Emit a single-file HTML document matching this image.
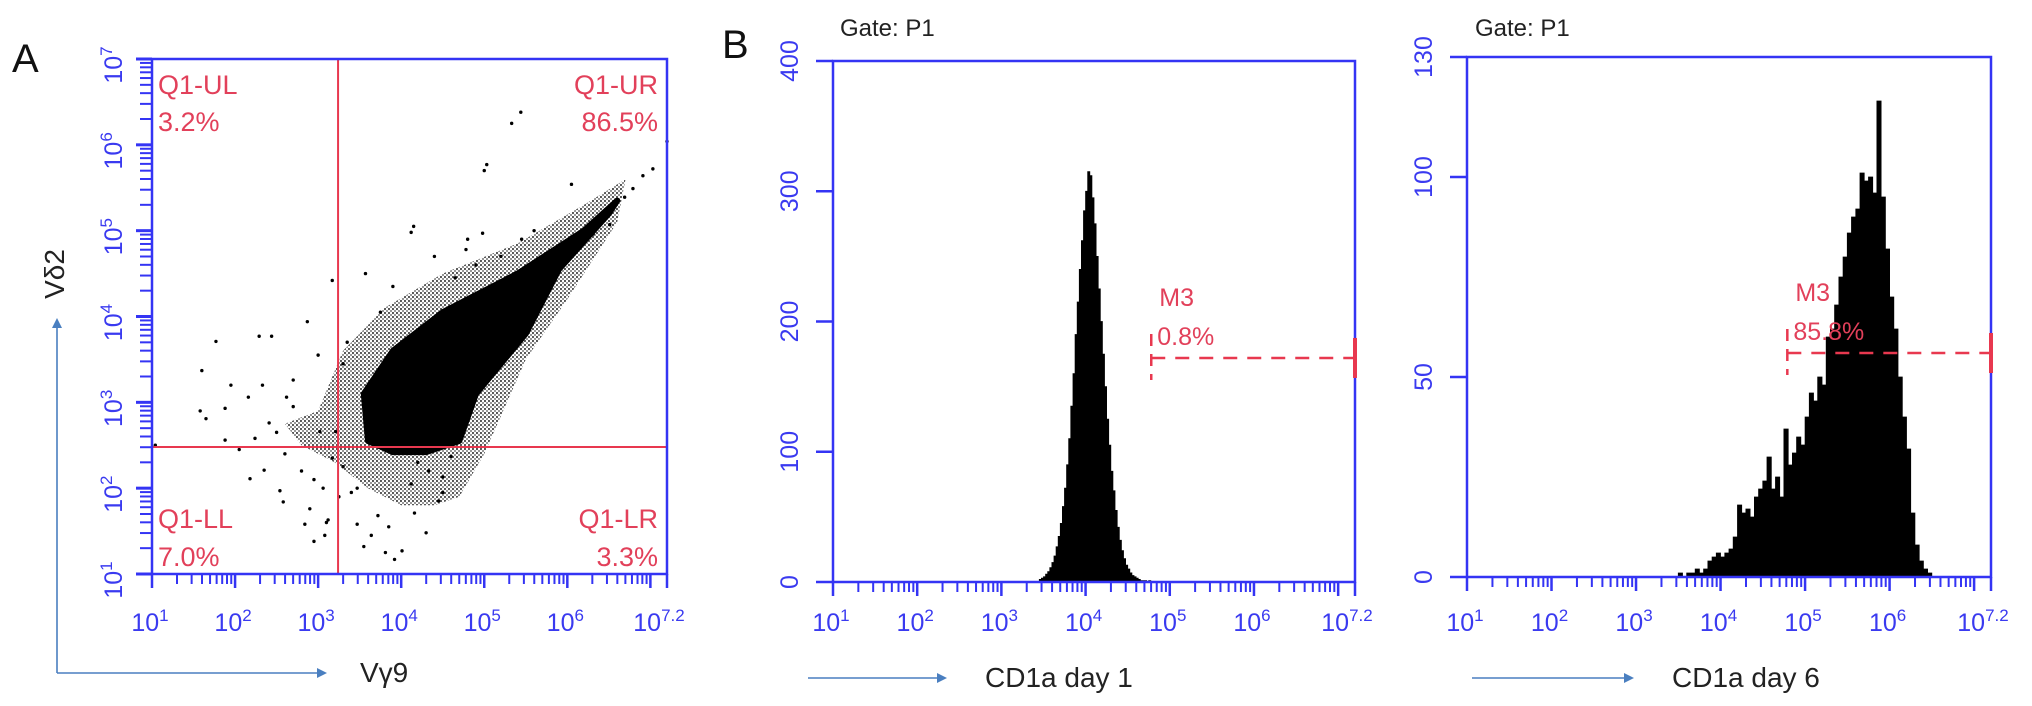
<!DOCTYPE html>
<html><head><meta charset="utf-8"><style>
html,body{margin:0;padding:0;background:#fff;}
svg{display:block;font-family:"Liberation Sans",Arial,sans-serif;}
</style></head><body>
<svg id="fig" width="2032" height="706" viewBox="0 0 2032 706" xmlns="http://www.w3.org/2000/svg">
<defs>
<pattern id="halo" width="4" height="4" patternUnits="userSpaceOnUse"><circle cx="1" cy="1" r="1.1" fill="#000"/><circle cx="3" cy="3" r="0.9" fill="#000"/></pattern>
<marker id="arr" markerWidth="10" markerHeight="10" refX="8" refY="5" orient="auto" markerUnits="userSpaceOnUse"><path d="M0,0 L10,5 L0,10 z" fill="#4a7fc0"/></marker>
</defs>
<text x="12" y="72" font-size="40" fill="#111">A</text>
<text x="722" y="58" font-size="40" fill="#111">B</text>
<text x="840" y="36" font-size="24" fill="#222">Gate: P1</text>
<text x="1475" y="36" font-size="24" fill="#222">Gate: P1</text>
<g id="layer"></g>
</svg>
<script>
// ---- Panel A data (log10 units) ----
const quadX = [3.24];
const quadY = [2.48];
const quadLabels = ["Q1-UL","Q1-UR","Q1-LL","Q1-LR"];
const quadPercents = ["3.2%","86.5%","7.0%","3.3%"];
const coreX = [3.6,3.55,3.9,4.5,5.4,6.2,6.6,6.5,5.9,5.5,4.9,4.7,4.3,3.9];
const coreY = [2.55,3.1,3.6,4.05,4.5,5.0,5.35,5.2,4.55,3.8,3.1,2.55,2.42,2.42];
const haloX = [3.0,3.3,3.8,4.5,5.4,6.2,6.7,6.6,6.0,5.5,5.0,4.7,4.4,4.0,3.6,3.2,2.8,2.6];
const haloY = [2.9,3.6,4.1,4.5,4.85,5.3,5.6,5.1,4.2,3.5,2.4,1.9,1.8,1.8,2.0,2.3,2.5,2.75];
const dotX = [5.44,5.33,5.03,5.0,4.15,4.12,3.17,3.57,4.78,4.98,5.45,1.77,1.60,2.87,2.29,2.44,1.58,1.88,1.65,1.95,2.16,2.33,2.41,2.62,2.70,2.18,2.35,2.54,2.58,2.90,2.84,3.08,3.12,2.95,3.47,3.55,3.92,3.81,4.01,4.16,4.30,4.50,4.60,4.50,3.72,3.64,1.88,1.04,2.24,2.80,3.06,3.25,3.30,3.47,4.12,4.33,3.17,3.02,3.21,6.05,6.69,6.79,6.91,7.03,7.20,6.51,6.31,6.15,3.35,3.0,2.7,4.4,4.8,5.6,3.9,2.6,3.4,4.2,3.1,2.95,4.9,5.2,4.65,3.75,3.3,2.5,2.05,3.85,4.45];
const dotY = [6.38,6.25,5.77,5.70,5.05,4.98,4.42,4.50,4.78,4.97,4.90,3.71,3.37,3.94,3.77,3.77,2.90,2.93,2.81,3.20,3.06,3.20,2.76,3.06,3.26,2.11,2.21,1.97,1.84,1.76,1.58,1.45,1.63,1.38,1.58,1.32,1.17,1.25,1.27,1.71,1.48,1.95,2.37,2.13,1.68,1.45,2.56,2.50,2.58,2.20,2.00,1.90,2.25,2.00,2.05,2.20,2.35,2.66,2.66,5.54,5.39,5.49,5.64,5.72,6.04,5.07,4.96,4.80,3.70,3.55,2.95,4.70,4.90,5.00,4.35,2.40,1.95,2.30,1.60,2.10,4.60,4.70,4.45,4.05,3.45,2.65,2.45,1.55,1.85];
// ---- Panel B day 1 histogram ----
const day1Start = [3.45];
const day1Step = [0.025];
const day1Counts = [2,3,4,6,8,11,15,20,27,35,45,58,72,90,110,135,160,190,215,240,262,285,300,315,312,295,275,250,225,200,175,150,125,105,85,70,55,42,32,24,18,13,10,7,5,4,3,2,1,1,1,0,1];
const day1Gate = [4.78];
const day1GateLevel = [172];
const day1Percent = ["0.8%"];
const day1YTicks = [0,100,200,300,400];
// ---- Panel B day 6 histogram ----
const day6Start = [3.50];
const day6Step = [0.05];
const day6Counts = [1,0,1,1,2,1,2,4,5,6,5,6,7,10,18,16,17,15,20,22,24,30,22,25,20,37,28,31,35,33,40,46,44,50,48,60,62,68,75,80,86,90,92,101,99,100,96,119,95,82,70,62,50,40,32,16,8,4,2,1,0];
const day6Gate = [4.79];
const day6GateLevel = [56];
const day6Percent = ["85.8%"];
const day6YTicks = [0,50,100,130];
// ---- shared axis ticks ----
const xDecades = [1,2,3,4,5,6];
const xLastLabel = ["7.2"];
const yDecadesA = [1,2,3,4,5,6,7];

const NS = "http://www.w3.org/2000/svg";
const layer = document.getElementById("layer");
const BLUE = "#3434f4", RED = "#e8384f", LBL = "#3a3af0";
function el(tag, attrs, parent){ const e=document.createElementNS(NS,tag); for(const k in attrs) e.setAttribute(k,attrs[k]); (parent||layer).appendChild(e); return e; }
function mkScale(a0,a1,p0,p1){ return v => p0 + (v-a0)/(a1-a0)*(p1-p0); }

function powerLabel(x, y, exp, rotate, parent, name){
  const t = el("text",{x:x,y:y,"font-size":25,fill:LBL,"text-anchor":"middle"},parent);
  
  
  if(rotate) t.setAttribute("transform","rotate(-90 "+x+" "+y+")");
  const b = document.createElementNS(NS,"tspan"); b.textContent="10"; t.appendChild(b);
  const s = document.createElementNS(NS,"tspan"); s.setAttribute("dy","-10"); s.setAttribute("font-size","17"); s.textContent=exp; t.appendChild(s);
  return t;
}
function logTicksX(sx, yb, xmax, g){
  for(let d=1; d<=Math.floor(xmax); d++){
    for(let m=1;m<=9;m++){
      const v = d+Math.log10(m);
      if(v>xmax) break;
      const L = m===1?14:10;
      el("line",{x1:sx(v),x2:sx(v),y1:yb,y2:yb+L,stroke:BLUE,"stroke-width":m===1?2.5:2},g);
    }
  }
  el("line",{x1:sx(xmax),x2:sx(xmax),y1:yb,y2:yb+14,stroke:BLUE,"stroke-width":2.5},g);
}
function xLabels(sx, y, g, prefix){
  xDecades.forEach(d=>{ powerLabel(sx(d)-2, y, String(d), false, g, prefix+"-x-tick-label-"+d); });
  powerLabel(sx(7.2)-8, y, xLastLabel[0], false, g, prefix+"-x-tick-label-7-2");
}
function box(x0,y0,x1,y1,g,name){
  const r = el("rect",{x:x0,y:y1,width:x1-x0,height:y0-y1,fill:"none",stroke:BLUE,"stroke-width":2.5},g);
  
  
}
function axisArrow(x1,y1,x2,y2,g,name){
  const l = el("line",{x1:x1,y1:y1,x2:x2,y2:y2,stroke:"#4a7fc0","stroke-width":1.6,"marker-end":"url(#arr)"},g);
  
  
}
function txt(x,y,s,size,fill,g,name,anchor){
  const t = el("text",{x:x,y:y,"font-size":size,fill:fill,"text-anchor":anchor||"start"},g);
  t.textContent = s;
  
  
  return t;
}

// ================= Panel A =================
(function(){
  const P={x0:152,x1:667,y0:574,y1:59};
  const sx = mkScale(1,7.2,P.x0,P.x1), sy = mkScale(1,7,P.y0,P.y1);
  const g = el("g",{});
  
  
  const pts = (X,Y)=>X.map((v,i)=>sx(v).toFixed(1)+","+sy(Y[i]).toFixed(1)).join(" ");
  const halo = el("polygon",{points:pts(haloX,haloY),fill:"url(#halo)",opacity:0.7,stroke:"none"},g);
  
  
  const core = el("polygon",{points:pts(coreX,coreY),fill:"#000","stroke":"#000","stroke-width":6,"stroke-linejoin":"round"},g);
  
  
  dotX.forEach((v,i)=>{
    const c = el("circle",{cx:sx(v),cy:sy(dotY[i]),r:1.7,fill:"#000"},g);
    
    
  });
  const vx = el("line",{x1:sx(quadX[0]),x2:sx(quadX[0]),y1:P.y0,y2:P.y1,stroke:RED,"stroke-width":2},g);
  
  
  const hy = el("line",{x1:P.x0,x2:P.x1,y1:sy(quadY[0]),y2:sy(quadY[0]),stroke:RED,"stroke-width":2},g);
  
  
  box(P.x0,P.y0,P.x1,P.y1,g,"panel-a-plot-frame");
  logTicksX(sx,P.y0,7.2,g);
  for(let d=1; d<=7; d++){ for(let m=1;m<=9;m++){ const v=d+Math.log10(m); if(v>7) break;
    const L=m===1?16:12; el("line",{x1:P.x0,x2:P.x0-L,y1:sy(v),y2:sy(v),stroke:BLUE,"stroke-width":m===1?3:2},g);} }
  xLabels(sx,631,g,"panel-a");
  yDecadesA.forEach(d=>{ powerLabel(122, sy(d)+6, String(d), true, g, "panel-a-y-tick-label-"+d); });
  const LC="#e2405a";
  txt(158,94,quadLabels[0],27,LC,g,"quadrant-ul-label"); txt(158,131,quadPercents[0],27,LC,g,"quadrant-ul-percent");
  txt(658,94,quadLabels[1],27,LC,g,"quadrant-ur-label","end"); txt(658,131,quadPercents[1],27,LC,g,"quadrant-ur-percent","end");
  txt(158,528,quadLabels[2],27,LC,g,"quadrant-ll-label"); txt(158,566,quadPercents[2],27,LC,g,"quadrant-ll-percent");
  txt(658,528,quadLabels[3],27,LC,g,"quadrant-lr-label","end"); txt(658,566,quadPercents[3],27,LC,g,"quadrant-lr-percent","end");
  axisArrow(57,673,325,673,g,"x-axis-arrow-a");
  axisArrow(57,673,57,320,g,"y-axis-arrow-a");
  txt(360,682,"Vγ9",28,"#222",g,"x-axis-title-a");
  const yt = txt(64,274,"Vδ2",28,"#222",g,"y-axis-title-a","middle");
  yt.setAttribute("transform","rotate(-90 64 274)");
})();

// ================= Histogram panels =================
function histPanel(P, start, step, counts, ymax, yticks, gate, level, pct, prefix, title, arrow){
  const sx = mkScale(1,7.2,P.x0,P.x1), sy = mkScale(0,ymax,P.y0,P.y1);
  const g = el("g",{});
  
  
  let d = "M"+sx(start).toFixed(1)+","+P.y0;
  counts.forEach((c,i)=>{
    const xa = sx(start+i*step), xb = sx(start+(i+1)*step);
    d += " L"+xa.toFixed(1)+","+sy(c).toFixed(1)+" L"+xb.toFixed(1)+","+sy(c).toFixed(1);
  });
  d += " L"+sx(start+counts.length*step).toFixed(1)+","+P.y0+" Z";
  const h = el("path",{d:d,fill:"#000",stroke:"#000","stroke-width":0.8},g);
  
  
  box(P.x0,P.y0,P.x1,P.y1,g,prefix+"-plot-frame");
  logTicksX(sx,P.y0,7.2,g);
  yticks.forEach(v=>{
    el("line",{x1:P.x0,x2:P.x0-17,y1:sy(v),y2:sy(v),stroke:BLUE,"stroke-width":2.5},g);
    const t = txt(P.x0-35, sy(v), String(v), 25, LBL, g, prefix+"-y-tick-label-"+v, "middle");
    t.setAttribute("transform","rotate(-90 "+(P.x0-35)+" "+sy(v)+")");
  });
  xLabels(sx,631,g,prefix);
  const gx = sx(gate), gy = sy(level);
  const gl = el("line",{x1:gx,x2:P.x1,y1:gy,y2:gy,stroke:RED,"stroke-width":2.5,"stroke-dasharray":"14,10"},g);
  
  
  el("line",{x1:gx,x2:gx,y1:gy-24,y2:gy+22,stroke:RED,"stroke-width":2.5,"stroke-dasharray":"12,8"},g);
  el("line",{x1:P.x1,x2:P.x1,y1:gy-20,y2:gy+20,stroke:RED,"stroke-width":4},g);
  txt(gx+8,gy-52,"M3",25,"#e2405a",g,prefix+"-m3-label");
  txt(gx+6,gy-13,pct,25,"#e2405a",g,prefix+"-m3-percent");
  axisArrow(arrow[0],678,arrow[1],678,g,prefix+"-x-axis-arrow");
  txt(arrow[1]+40,687,title,28,"#222",g,prefix+"-x-axis-title");
}
histPanel({x0:833,x1:1355,y0:582,y1:61}, day1Start[0], day1Step[0], day1Counts, 400, day1YTicks, day1Gate[0], day1GateLevel[0], day1Percent[0], "day1", "CD1a day 1", [808,945]);
histPanel({x0:1467,x1:1991,y0:577,y1:57}, day6Start[0], day6Step[0], day6Counts, 130, day6YTicks, day6Gate[0], day6GateLevel[0], day6Percent[0], "day6", "CD1a day 6", [1472,1632]);
</script>
</body></html>
